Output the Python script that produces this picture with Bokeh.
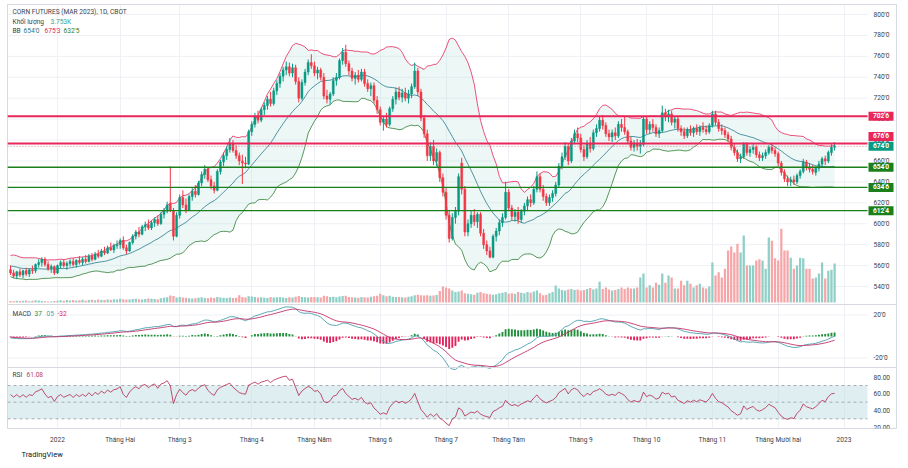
import numpy as np
import pandas as pd
from bokeh.plotting import figure
from bokeh.models import (Range1d, FixedTicker, Span, Label, ColumnDataSource,
                          CustomJSTickFormatter, Title)
from bokeh.core.properties import value
from bokeh.embed import file_html
from bokeh.resources import INLINE

# ---------------- data ----------------
warmup_closes = [560, 565, 568, 563, 558, 553, 556, 561, 566, 569, 564, 559, 554, 551, 556, 560, 563, 558, 555]

opens = [
    556, 553, 550, 554, 551, 555, 552, 556, 555, 561, 563, 566, 561, 557, 559,
    553, 560, 563, 560, 562, 564, 561, 565, 563, 566, 564, 569, 566, 571, 569, 574, 572, 577, 575, 579,
    580, 584, 577, 574, 582, 588, 592, 590, 597, 599, 596, 601, 604, 600, 609, 612, 619, 612, 588,
    608, 625, 618, 613, 626, 631, 628, 639, 647, 652, 642, 636, 632, 650, 659, 665, 671, 677, 670, 665, 660, 658, 657,
    688, 695, 703, 699, 709, 713, 719, 715, 727, 734, 741, 747, 750, 744, 749, 736, 720, 735, 745, 754,
    751, 744, 747, 740, 722, 719, 724, 737, 740, 756, 764, 753, 746, 739, 742, 738, 745, 734, 729, 732, 718,
    709, 697, 700, 695, 710, 719, 726, 721, 725, 720, 724, 731, 746, 726, 701, 686, 665, 674, 660, 668, 644,
    630, 608, 586, 606, 612, 658, 633, 592, 600, 608, 602, 609, 591, 580, 574, 568, 588, 593, 601, 606,
    630, 615, 607, 611, 604, 612, 617, 623, 620, 633, 645, 633, 626, 620, 625, 629, 637, 655, 664, 674, 660, 679, 686,
    682, 671, 664, 677, 672, 687, 691, 699, 694, 686, 683, 687, 684, 695, 692, 688, 679, 673, 677, 674, 676,
    700, 690, 695, 692, 686, 689, 706, 702, 705, 697, 700, 691, 688, 684, 690, 687, 691, 688, 692, 690, 688,
    694, 705, 697, 691, 689, 685, 681, 673, 668, 662, 664, 676, 668, 671, 673, 666, 663, 665, 668, 673, 670,
    667, 658, 649, 643, 640, 642, 640, 646, 650, 659, 654, 652, 649, 653, 657, 662, 660, 668, 673,
]
highs = [
    560, 556, 555, 557, 556, 558, 557, 560, 562, 566, 568, 568, 564, 561, 560,
    561, 565, 566, 564, 566, 567, 566, 569, 568, 570, 571, 572, 573, 575, 576, 578, 579, 582, 581, 584,
    586, 588, 580, 583, 590, 594, 597, 599, 602, 604, 603, 606, 608, 611, 615, 621, 655, 615, 611,
    628, 632, 624, 628, 634, 637, 641, 650, 656, 654, 646, 640, 652, 661, 668, 674, 682, 680, 675, 668, 666, 664, 690,
    698, 706, 708, 711, 716, 722, 726, 730, 737, 744, 750, 755, 754, 753, 752, 740, 738, 748, 757, 762,
    755, 750, 749, 744, 728, 726, 740, 744, 758, 768, 771, 756, 749, 745, 747, 748, 748, 738, 735, 735, 722,
    712, 703, 706, 712, 722, 730, 731, 729, 730, 728, 734, 754, 749, 729, 704, 690, 678, 680, 672, 670, 648,
    634, 612, 610, 616, 648, 663, 636, 604, 612, 614, 611, 611, 595, 584, 578, 590, 596, 604, 610, 640,
    633, 618, 614, 616, 614, 620, 626, 628, 636, 650, 648, 637, 629, 628, 632, 640, 658, 668, 678, 676, 682, 690, 692,
    686, 675, 680, 683, 690, 695, 703, 704, 697, 690, 690, 692, 698, 700, 703, 690, 683, 680, 681, 680, 703,
    703, 698, 700, 695, 692, 713, 710, 709, 708, 703, 702, 694, 692, 692, 694, 693, 695, 694, 697, 694, 696,
    708, 708, 700, 695, 692, 688, 684, 676, 671, 667, 678, 678, 674, 676, 675, 669, 668, 671, 675, 676, 673,
    669, 660, 652, 646, 645, 646, 648, 652, 662, 661, 658, 656, 655, 660, 664, 665, 670, 676, 678,
]
lows = [
    551, 548, 547, 549, 548, 550, 549, 552, 553, 558, 559, 559, 555, 553, 551,
    552, 557, 558, 556, 559, 559, 558, 561, 560, 562, 563, 564, 565, 567, 568, 570, 571, 574, 572, 576,
    576, 575, 571, 573, 580, 585, 587, 589, 593, 594, 594, 597, 598, 599, 605, 610, 611, 584, 587,
    605, 615, 610, 612, 622, 625, 627, 636, 643, 640, 633, 629, 631, 647, 655, 661, 668, 668, 662, 656, 638, 653, 656,
    684, 692, 696, 697, 704, 709, 712, 713, 723, 730, 736, 742, 741, 740, 733, 716, 718, 732, 742, 748,
    741, 738, 737, 719, 715, 714, 722, 732, 738, 752, 750, 742, 736, 733, 735, 736, 731, 726, 722, 715, 705,
    694, 689, 692, 693, 707, 714, 718, 716, 717, 715, 720, 729, 722, 698, 682, 660, 660, 656, 655, 640, 626,
    604, 582, 584, 600, 608, 628, 588, 588, 596, 598, 596, 588, 576, 570, 567, 567, 583, 589, 597, 604,
    612, 603, 602, 600, 601, 608, 613, 616, 618, 630, 630, 622, 617, 617, 621, 626, 635, 652, 661, 656, 658, 676, 678,
    668, 660, 662, 668, 670, 683, 688, 690, 683, 679, 678, 680, 682, 688, 685, 676, 670, 669, 670, 667, 674,
    686, 686, 688, 683, 682, 687, 698, 697, 694, 691, 688, 684, 681, 682, 684, 683, 685, 684, 687, 685, 686,
    692, 694, 688, 685, 682, 678, 670, 665, 659, 658, 662, 665, 664, 667, 663, 660, 660, 662, 666, 667, 664,
    655, 646, 640, 636, 636, 637, 638, 643, 648, 651, 649, 647, 646, 650, 654, 656, 658, 665, 670,
]
closes = [
    553, 550, 554, 551, 555, 552, 556, 555, 561, 563, 566, 561, 557, 559, 553,
    560, 563, 560, 562, 564, 561, 565, 563, 566, 564, 569, 566, 571, 569, 574, 572, 577, 575, 579, 580,
    584, 577, 574, 582, 588, 592, 590, 597, 599, 596, 601, 604, 600, 609, 612, 618, 613, 588, 608,
    625, 618, 613, 626, 631, 628, 639, 647, 652, 642, 636, 632, 650, 659, 665, 671, 677, 670, 665, 660, 658, 657, 688,
    695, 703, 699, 709, 713, 719, 715, 727, 734, 741, 747, 750, 744, 749, 736, 720, 735, 745, 754, 751,
    744, 747, 740, 722, 719, 724, 737, 740, 756, 764, 753, 746, 739, 742, 738, 745, 734, 729, 732, 718, 709,
    697, 700, 695, 710, 719, 726, 721, 725, 720, 724, 731, 746, 726, 701, 686, 665, 674, 660, 668, 644, 630,
    608, 586, 606, 612, 645, 633, 592, 600, 608, 602, 609, 591, 580, 574, 568, 588, 593, 601, 606, 630,
    615, 607, 611, 604, 612, 617, 623, 620, 633, 645, 633, 626, 620, 625, 629, 637, 655, 664, 674, 660, 679, 686, 682,
    671, 664, 677, 672, 687, 691, 699, 694, 686, 683, 687, 684, 695, 692, 688, 679, 673, 677, 674, 676, 700,
    690, 695, 692, 686, 689, 706, 702, 705, 697, 700, 691, 688, 684, 690, 687, 691, 688, 692, 690, 688, 694,
    705, 697, 691, 689, 685, 681, 673, 668, 662, 664, 676, 668, 671, 673, 666, 663, 665, 668, 673, 670, 667,
    658, 649, 643, 640, 642, 640, 646, 650, 659, 654, 652, 650, 653, 657, 662, 660, 668, 673, 674,
]
volumes = [
    150, 120, 180, 140, 160, 200, 130, 170, 210, 190, 150, 120, 100, 90, 140,
    180, 210, 160, 230, 190, 250, 200, 220, 260, 180, 240, 270, 210, 300, 250, 230, 280, 260, 310, 290,
    350, 320, 300, 280, 330, 360, 310, 290, 340, 380, 350, 330, 300, 420, 450, 500, 680, 620, 480,
    520, 480, 450, 400, 380, 420, 460, 500, 440, 410, 470, 430, 520, 480, 450, 430, 470, 440, 460, 700, 520, 480, 600,
    580, 520, 480, 500, 460, 440, 520, 480, 500, 530, 470, 440, 510, 480, 560, 620, 540, 500, 470, 520,
    540, 510, 480, 640, 600, 520, 560, 500, 580, 620, 660, 540, 500, 480, 460, 520, 500, 480, 550, 600, 650,
    850, 700, 600, 650, 560, 540, 520, 500, 480, 560, 600, 700, 750, 690, 680, 700, 650, 680, 720, 1100, 1530,
    1440, 1350, 1150, 1000, 1050, 1150, 900, 850, 800, 750, 950, 1000, 900, 850, 800, 750, 800, 900, 950, 1000,
    850, 900, 850, 1000, 950, 900, 1000, 950, 1050, 1150, 900, 700, 750, 900, 1000, 1630, 1350, 1200, 1150, 1250, 1300, 1200, 1250,
    1150, 1200, 1300, 1400, 1250, 1350, 2000, 1300, 1450, 1250, 1150, 1200, 1300, 1450, 1300, 1450, 1350, 1350, 1450, 2400, 2800,
    1450, 1650, 1450, 1900, 1700, 2800, 1900, 2600, 2400, 1350, 1350, 2100, 1650, 2100, 1800, 1450, 1650, 1800, 1450, 1350, 1550,
    3850, 2600, 2900, 2400, 3250, 5000, 5400, 4800, 5650, 4800, 6450, 3550, 3550, 3550, 4050, 4150, 4050, 3250, 6250, 5950, 4250,
    4050, 7100, 5000, 5000, 4300, 3250, 3550, 4300, 4250, 3250, 3250, 2300, 2400, 2800, 3850, 2300, 3050, 3150, 3753,
]

holidays = ["2021-12-24", "2022-01-17", "2022-02-21", "2022-04-15", "2022-05-30", "2022-06-20",
            "2022-07-04", "2022-09-05", "2022-11-24", "2022-12-26", "2023-01-02"]
month_names = {1: None, 2: "Tháng Hai", 3: "Tháng 3", 4: "Tháng 4", 5: "Tháng Năm", 6: "Tháng 6",
               7: "Tháng 7", 8: "Tháng Tám", 9: "Tháng 9", 10: "Tháng 10", 11: "Tháng 11", 12: "Tháng Mười hai"}

level_red = [702.75, 676.75]
level_red_text = ["702'6", "676'6"]
level_green = [654.0, 634.75, 612.5]
level_green_text = ["654'0", "634'6", "612'4"]
last_price = 674.0
last_price_text = "674'0"
price_ticks = list(range(540, 801, 20))
macd_ticks = [-20, 20]
rsi_ticks = [20, 40, 60, 80]
rsi_bands = [70, 50, 30]

legend_title = "CORN FUTURES (MAR 2023), 1D, CBOT"
legend_vol = ("Khối lượng", "3.753K")
legend_bb = ("BB", "654'0", "675'3", "632'5")
legend_macd = ("MACD", "37", "05", "-32")
legend_rsi = ("RSI", "61.08")

# ---------------- indicators ----------------
n = len(closes)
c_all = pd.Series(warmup_closes + closes, dtype=float)
nw = len(warmup_closes)
bb_mid = c_all.rolling(20).mean()
bb_sd = c_all.rolling(20).std(ddof=0)
bb_up = (bb_mid + 2 * bb_sd)[nw:].to_numpy()
bb_lo = (bb_mid - 2 * bb_sd)[nw:].to_numpy()
bb_mid = bb_mid[nw:].to_numpy()
ema12 = c_all.ewm(span=12, adjust=False).mean()
ema26 = c_all.ewm(span=26, adjust=False).mean()
macd_s = ema12 - ema26
sig_s = macd_s.ewm(span=9, adjust=False).mean()
macd = macd_s[nw:].to_numpy()
sig = sig_s[nw:].to_numpy()
hist = macd - sig
d = c_all.diff()
g = d.clip(lower=0).ewm(alpha=1 / 14, adjust=False).mean()
l = (-d.clip(upper=0)).ewm(alpha=1 / 14, adjust=False).mean()
rsi = (100 - 100 / (1 + g / l))[nw:].to_numpy()

# dates / month ticks
days = pd.bdate_range("2021-12-10", "2023-01-03")
days = days[~days.isin(pd.to_datetime(holidays))]
tick_idx, tick_lab = [], []
for i in range(1, len(days)):
    if days[i].month != days[i - 1].month:
        tick_idx.append(i)
        m = days[i].month
        tick_lab.append(str(days[i].year) if m == 1 else month_names[m])

# ---------------- pane geometry (screen px) ----------------
FRAME_L, FRAME_R, FRAME_T, FRAME_B = 7, 896, 4, 428
PLOT_R = 867          # end of the chart area, price scale to the right of it
W, H = 908, 468


def mapping(a_val, a_y, b_val, b_y):
    k = (a_y - b_y) / (a_val - b_val)
    return (lambda v: a_y + (v - a_val) * k), (lambda y: a_val + (y - a_y) / k)


price_y, price_v = mapping(800, 14, 540, 286)
vol_y, vol_v = mapping(0, 302, 3753, 263)
macd_y, macd_v = mapping(20, 314.5, -20, 357.5)
rsi_y, rsi_v = mapping(70, 385, 30, 418.3)
bar_px = (843.5 - 57) / (266 - 15)


def sx(x):  # screen x -> bar index
    return 15 + (x - 57) / bar_px


x0, x1, xr = sx(FRAME_L), sx(FRAME_R), sx(PLOT_R)

FONT = "Roboto"
TXT = "#3b3e48"
GRID = "#eef0f5"
UP, DN = "#089981", "#f23645"
VUP, VDN = "#8ecfc6", "#f6a5a8"
RED_LVL, GREEN_LVL = "#e8265a", "#1b7f1b"

p = figure(width=W, height=H, output_backend="svg", toolbar_location=None,
           x_range=Range1d(x0, x1), y_range=Range1d(price_v(FRAME_B), price_v(FRAME_T)),
           y_axis_location=None, min_border_left=FRAME_L, min_border_right=W - FRAME_R,
           min_border_top=FRAME_T, min_border_bottom=H - FRAME_B)
p.extra_y_ranges = {
    "vol": Range1d(vol_v(FRAME_B), vol_v(FRAME_T)),
    "macd": Range1d(macd_v(FRAME_B), macd_v(FRAME_T)),
    "rsi": Range1d(rsi_v(FRAME_B), rsi_v(FRAME_T)),
}
p.outline_line_color = "#d6d9e0"
p.background_fill_color = "white"
p.border_fill_color = "white"

# grids
p.xgrid.ticker = FixedTicker(ticks=tick_idx)
p.xgrid.grid_line_color = GRID
p.ygrid.visible = False
p.segment(x0=[x0] * len(price_ticks), x1=[xr] * len(price_ticks), y0=price_ticks, y1=price_ticks,
          line_color=GRID, line_width=1)
p.segment(x0=[x0] * len(macd_ticks), x1=[xr] * len(macd_ticks), y0=macd_ticks, y1=macd_ticks,
          y_range_name="macd", line_color=GRID, line_width=1)

# time axis (real axis below)
xax = p.xaxis[0]
xax.ticker = FixedTicker(ticks=tick_idx)
xax.formatter = CustomJSTickFormatter(args=dict(vals=tick_idx, labs=tick_lab), code="""
for (let i = 0; i < vals.length; i++) { if (Math.abs(vals[i] - tick) < 1e-6) return labs[i]; }
return "";""")
xax.axis_line_color = None
xax.major_tick_line_color = None
xax.minor_tick_line_color = None
xax.major_tick_out = 0
xax.major_tick_in = 0
xax.major_label_standoff = 7
xax.major_label_text_font = FONT
xax.major_label_text_font_size = "6.6px"
xax.major_label_text_color = TXT

# sources
idx = np.arange(n)
o = np.array(opens, float); c = np.array(closes, float)
up = c >= o
src = ColumnDataSource(dict(
    x=idx, o=o, h=np.array(highs, float), l=np.array(lows, float), c=c,
    top=np.maximum(o, c), bot=np.minimum(o, c),
    col=np.where(up, UP, DN), vol=np.array(volumes, float), vcol=np.where(up, VUP, VDN),
    bbu=bb_up, bbl=bb_lo, bbm=bb_mid,
    macd=macd, sig=sig, hist=hist, hcol=np.where(hist >= 0, "#1f8f3a", "#e0245e"),
    rsi=rsi,
))

# volume
p.vbar(x="x", width=0.72, top="vol", bottom=0, y_range_name="vol", source=src,
       fill_color="vcol", line_color=None)
# Bollinger
p.varea(x="x", y1="bbl", y2="bbu", source=src, fill_color="#b2dfdb", fill_alpha=0.25)
p.line("x", "bbu", source=src, line_color="#e8265a", line_width=0.8)
p.line("x", "bbl", source=src, line_color="#2e7d32", line_width=0.8)
p.line("x", "bbm", source=src, line_color="#2a7a8c", line_width=0.8)
# candles
p.segment(x0="x", y0="l", x1="x", y1="h", source=src, line_color="col", line_width=1)
p.vbar(x="x", width=0.62, top="top", bottom="bot", source=src, fill_color="col",
       line_color="col", line_width=0.5)

# levels (end at the price scale)
p.segment(x0=[x0] * 2, x1=[xr] * 2, y0=level_red, y1=level_red, line_color=RED_LVL, line_width=2)
p.segment(x0=[x0] * 3, x1=[xr] * 3, y0=level_green, y1=level_green, line_color=GREEN_LVL,
          line_width=1.4)
p.segment(x0=[x0], x1=[xr], y0=[last_price], y1=[last_price], line_color="#c98a96",
          line_width=1, line_dash="1 2")

# pane separators
for ys in (304, 367):
    p.add_layout(Span(location=price_v(ys), dimension="width", line_color="#d6d9e0", line_width=1))

# MACD
p.vbar(x="x", width=0.6, top="hist", bottom=0, y_range_name="macd", source=src,
       fill_color="hcol", line_color=None)
p.line("x", "macd", source=src, y_range_name="macd", line_color="#4a9fb0", line_width=0.9)
p.line("x", "sig", source=src, y_range_name="macd", line_color="#c2336a", line_width=0.9)

# RSI
p.varea(x=[x0, xr], y1=[rsi_bands[2]] * 2, y2=[rsi_bands[0]] * 2, y_range_name="rsi",
        fill_color="#c5e2e6", fill_alpha=0.55)
p.segment(x0=[x0] * 3, x1=[xr] * 3, y0=rsi_bands, y1=rsi_bands, y_range_name="rsi",
          line_color="#9598a1", line_width=0.8, line_dash="3 3")
p.line("x", "rsi", source=src, y_range_name="rsi", line_color="#b83a5e", line_width=0.9)

# price scale texts (right side)
AX_X = sx(873)
tf = value(FONT)
p.text(x=[AX_X] * len(price_ticks), y=price_ticks, text=[f"{v}'0" for v in price_ticks],
       text_font=tf, text_font_size="6.6px", text_color=TXT, text_baseline="middle")
p.text(x=[AX_X] * len(macd_ticks), y=macd_ticks, text=[f"{v}'0" for v in macd_ticks],
       y_range_name="macd", text_font=tf, text_font_size="6.6px", text_color=TXT,
       text_baseline="middle")
p.text(x=[AX_X] * len(rsi_ticks), y=rsi_ticks, text=[f"{v:.2f}" for v in rsi_ticks],
       y_range_name="rsi", text_font=tf, text_font_size="6.6px", text_color=TXT,
       text_baseline="middle")

# price boxes on the scale
BOX_X = sx(880.5)
box_vals = [level_red[0], level_red[1], last_price] + level_green
box_text = [level_red_text[0], level_red_text[1], last_price_text] + level_green_text
box_col = [RED_LVL, RED_LVL, "#089981", GREEN_LVL, GREEN_LVL, GREEN_LVL]
box_shift = [0, 7, 0, 0, 0, 0]                     # px, avoids overlap of neighbouring boxes
box_y = [v + s * (price_v(0) - price_v(1)) for v, s in zip(box_vals, box_shift)]
p.rect(x=[BOX_X] * 6, y=box_y, width=25, height=9, width_units="screen", height_units="screen",
       fill_color=box_col, line_color=None)
p.text(x=[BOX_X] * 6, y=box_y, text=box_text, text_font=tf, text_font_size="6.6px",
       text_font_style="bold", text_color="white", text_align="center", text_baseline="middle")


# ---------------- legends ----------------
def lab(x, y, text, color=TXT, size="6.6px", bold=False):
    p.add_layout(Label(x=x - FRAME_L, y=FRAME_B - y, x_units="screen", y_units="screen",
                       text=text, text_color=color, text_font=FONT, text_font_size=size,
                       text_font_style="bold" if bold else "normal", text_baseline="middle"))


lab(12, 11, legend_title)
lab(12, 21, legend_vol[0]); lab(50, 21, legend_vol[1], "#26a69a")
lab(12, 30, legend_bb[0]); lab(23, 30, legend_bb[1], "#2a7a8c")
lab(44, 30, legend_bb[2], "#e8265a"); lab(63, 30, legend_bb[3], "#2e7d32")
lab(12, 313, legend_macd[0]); lab(34, 313, legend_macd[1], "#1f8f3a")
lab(46, 313, legend_macd[2], "#4a9fb0"); lab(57, 313, legend_macd[3], "#e0245e")
lab(12, 374, legend_rsi[0]); lab(26, 374, legend_rsi[1], "#b83a5e")

p.add_layout(Title(text="TradingView", align="left", offset=14, standoff=2,
                   text_font=FONT, text_font_size="7.5px", text_font_style="normal",
                   text_color="#131722"), "below")

open("out.html", "w").write(file_html(p, INLINE))
